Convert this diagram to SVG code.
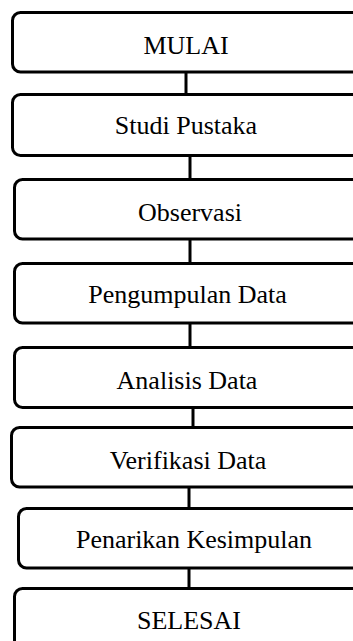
<svg xmlns="http://www.w3.org/2000/svg" width="353" height="641" viewBox="0 0 353 641">
  <style>
    .box { fill: #ffffff; stroke: #000000; stroke-width: 3; }
    .lbl { font-family: "Liberation Serif", "Times New Roman", serif; font-size: 26px; fill: #000000; text-anchor: middle; }
    .link { stroke: #000000; stroke-width: 3; fill: none; }
  </style>
  <rect width="353" height="641" fill="#ffffff"/>
  <!-- connectors between consecutive steps -->
  <g id="connectors">
    <line class="link" x1="186" y1="72" x2="186" y2="95"/>
    <line class="link" x1="190" y1="155" x2="190" y2="180"/>
    <line class="link" x1="190" y1="239" x2="190" y2="264"/>
    <line class="link" x1="190" y1="323" x2="190" y2="348"/>
    <line class="link" x1="193" y1="408" x2="193" y2="428"/>
    <line class="link" x1="189" y1="487" x2="189" y2="509"/>
    <line class="link" x1="189" y1="568" x2="189" y2="589"/>
  </g>
  <g id="mulai">
    <rect class="box" x="12.5" y="12.5" width="370" height="59.5" rx="8"/>
    <text class="lbl" x="186" y="54">MULAI</text>
  </g>
  <g id="studi-pustaka">
    <rect class="box" x="12.5" y="94.5" width="370" height="61" rx="8"/>
    <text class="lbl" x="186" y="134">Studi Pustaka</text>
  </g>
  <g id="observasi">
    <rect class="box" x="14.5" y="179.5" width="370" height="59.5" rx="8"/>
    <text class="lbl" x="190" y="221">Observasi</text>
  </g>
  <g id="pengumpulan-data">
    <rect class="box" x="14.5" y="263.5" width="370" height="59.5" rx="8"/>
    <text class="lbl" x="187.5" y="303">Pengumpulan Data</text>
  </g>
  <g id="analisis-data">
    <rect class="box" x="14.5" y="347.5" width="370" height="60" rx="8"/>
    <text class="lbl" x="187" y="389">Analisis Data</text>
  </g>
  <g id="verifikasi-data">
    <rect class="box" x="11.5" y="427.5" width="370" height="59.5" rx="8"/>
    <text class="lbl" x="188" y="469">Verifikasi Data</text>
  </g>
  <g id="penarikan-kesimpulan">
    <rect class="box" x="18.5" y="508.5" width="370" height="59.5" rx="8"/>
    <text class="lbl" x="194" y="548">Penarikan Kesimpulan</text>
  </g>
  <g id="selesai">
    <rect class="box" x="14.5" y="588.5" width="370" height="62" rx="8"/>
    <text class="lbl" x="189" y="629">SELESAI</text>
  </g>
</svg>
